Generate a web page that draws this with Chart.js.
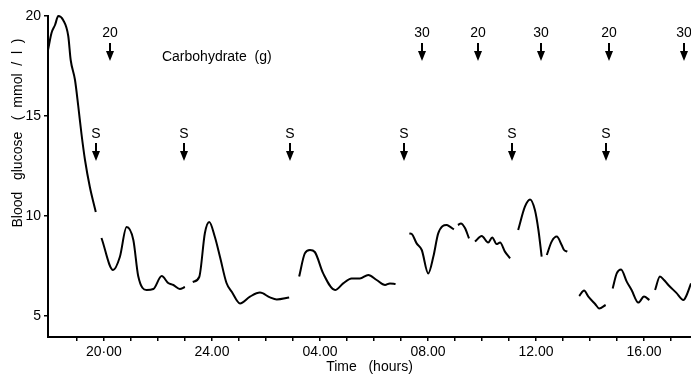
<!DOCTYPE html>
<html>
<head>
<meta charset="utf-8">
<script src="https://cdn.jsdelivr.net/npm/chart.js@4.4.0/dist/chart.umd.min.js"></script>
<style>
  html, body { margin: 0; padding: 0; background: #fff; }
</style>
</head>
<body>
<canvas id="grafico" width="691" height="376"></canvas>
<script>
// horas contadas desde las 18:00 (2 = 20:00, 6 = 24:00, 10 = 04:00 ...)
// null = corte en el registro
const hours = [
  -0.07, 0.06, 0.19, 0.31, 0.49, 0.68, 0.77, 0.93, 1.05, 1.17, 1.30, 1.48, 1.70, null,
  1.91, 2.34, 2.59, 2.84, 3.09, 3.27, 3.58, 3.83, 4.14, 4.38, 4.57, 4.81, 5.00, null,
  5.29, 5.53, 5.74, 5.90, 6.11, 6.30, 6.54, 6.74, 7.04, 7.41, 7.78, 8.15, 8.40, 8.86, null,
  9.23, 9.44, 9.63, 9.81, 10.12, 10.56, 10.86, 11.17, 11.48, 11.79, 12.10, 12.41, 12.59, 12.80, null,
  13.31, 13.40, 13.58, 13.77, 14.01, 14.20, 14.38, 14.69, 14.81, 14.96, null,
  15.11, 15.22, 15.37, 15.52, null,
  15.74, 15.99, 16.23, 16.38, 16.54, 16.67, 16.85, 17.04, null,
  17.34, 17.59, 17.78, 17.96, 18.09, 18.21, null,
  18.40, 18.58, 18.77, 18.95, 19.04, 19.16, null,
  19.60, 19.78, 19.94, 20.19, 20.34, 20.58, null,
  20.84, 20.99, 21.15, 21.36, 21.54, 21.79, 22.00, 22.20, null,
  22.41, 22.59, 22.74, 22.90, 23.19, 23.46, 23.58, 23.74
];
const glucose = [
  18.3, 19.15, 19.55, 20.0, 19.8, 19.0, 17.8, 16.8, 15.5, 14.1, 12.8, 11.45, 10.2, null,
  8.9, 7.3, 7.95, 9.45, 8.8, 7.0, 6.3, 6.35, 7.0, 6.65, 6.55, 6.35, 6.45, null,
  6.7, 6.95, 9.15, 9.7, 8.95, 7.95, 6.65, 6.2, 5.63, 5.97, 6.17, 5.93, 5.83, 5.93, null,
  6.97, 8.13, 8.3, 8.2, 7.13, 6.3, 6.63, 6.88, 6.88, 7.05, 6.8, 6.55, 6.63, 6.6, null,
  9.13, 9.1, 8.63, 8.3, 7.13, 7.97, 9.13, 9.55, 9.47, 9.33, null,
  9.55, 9.63, 9.4, 8.88, null,
  8.72, 9.0, 8.67, 8.93, 8.6, 8.67, 8.22, 7.88, null,
  9.3, 10.47, 10.83, 10.3, 9.3, 7.97, null,
  8.05, 8.72, 8.97, 8.55, 8.3, 8.22, null,
  6.0, 6.27, 5.97, 5.6, 5.38, 5.55, null,
  6.38, 7.13, 7.33, 6.72, 6.3, 5.67, 5.97, 5.8, null,
  6.3, 6.97, 6.8, 6.55, 6.17, 5.8, 6.05, 6.63
];

// marcas del eje de tiempo (una por hora) y sus etiquetas
const hourTicks = [1, 2, 3, 4, 5, 6, 7, 8, 9, 10, 11, 12, 13, 14, 15, 16, 17, 18, 19, 20, 21, 22, 23];
const hourLabels = { 2: '20·00', 6: '24.00', 10: '04.00', 14: '08.00', 18: '12.00', 22: '16.00' };
const glucoseTicks = [5, 10, 15, 20];

// carbohidratos (g) y dosis "S"
const carbHours = [2.22, 13.78, 15.85, 18.19, 20.70, 23.48];
const carbGrams = ['20', '30', '20', '30', '20', '30'];
const sHours = [1.70, 4.96, 8.89, 13.11, 17.11, 20.59];

const FUENTE = '"Liberation Sans", Arial, sans-serif';

// flechas, textos y titulo del eje Y
const anotaciones = {
  id: 'anotaciones',
  afterDatasetsDraw(chart) {
    const { ctx, scales: { x, y } } = chart;
    ctx.save();
    ctx.fillStyle = '#000';
    ctx.strokeStyle = '#000';
    ctx.font = '14px ' + FUENTE;
    ctx.textAlign = 'center';
    ctx.textBaseline = 'middle';

    const flecha = (h, txt, vTxt, vTop, vTip) => {
      const px = Math.round(x.getPixelForValue(h));
      const top = y.getPixelForValue(vTop);
      const tip = y.getPixelForValue(vTip);
      ctx.fillText(txt, px, y.getPixelForValue(vTxt));
      ctx.lineWidth = 2;
      ctx.beginPath();
      ctx.moveTo(px, top);
      ctx.lineTo(px, tip - 8);
      ctx.stroke();
      ctx.beginPath();
      ctx.moveTo(px - 4, tip - 10);
      ctx.lineTo(px + 4, tip - 10);
      ctx.lineTo(px, tip);
      ctx.closePath();
      ctx.fill();
    };

    carbHours.forEach((h, i) => flecha(h, carbGrams[i], 19.15, 18.65, 17.75));
    sHours.forEach(h => flecha(h, 'S', 14.1, 13.65, 12.75));

    ctx.textAlign = 'left';
    ctx.fillText('Carbohydrate  (g)', x.getPixelForValue(4.15), y.getPixelForValue(17.95));

    // titulo eje Y
    ctx.translate(18, 133);
    ctx.rotate(-Math.PI / 2);
    ctx.textAlign = 'center';
    ctx.fillText('Blood   glucose   (  mmol  /  l  )', 0, 0);
    ctx.restore();
  }
};

new Chart(document.getElementById('grafico'), {
  type: 'line',
  data: {
    datasets: [{
      data: hours.map((h, i) => ({ x: h, y: glucose[i] })),
      borderColor: '#000',
      borderWidth: 2,
      pointRadius: 0,
      fill: false,
      spanGaps: false,
      tension: 0.4,
      cubicInterpolationMode: 'monotone',
      clip: false
    }]
  },
  options: {
    responsive: false,
    animation: false,
    layout: { padding: { top: 16, right: 0, bottom: 0, left: 0 } },
    plugins: { legend: { display: false }, tooltip: { enabled: false } },
    scales: {
      x: {
        type: 'linear',
        min: -0.07,
        max: 23.74,
        afterBuildTicks: s => { s.ticks = hourTicks.map(v => ({ value: v })); },
        afterFit: s => { s.height = 39; },
        grid: { drawOnChartArea: false, color: '#000', lineWidth: 1.5, tickLength: 4 },
        border: { color: '#000', width: 2 },
        ticks: {
          autoSkip: false,
          maxRotation: 0,
          padding: 3,
          color: '#000',
          font: { family: FUENTE, size: 14 },
          callback: v => hourLabels[v] || ''
        },
        title: {
          display: true,
          text: 'Time   (hours)',
          color: '#000',
          font: { family: FUENTE, size: 14 },
          padding: { top: 0, bottom: 0 }
        }
      },
      y: {
        min: 3.95,
        max: 20,
        afterBuildTicks: s => { s.ticks = glucoseTicks.map(v => ({ value: v })); },
        afterFit: s => { s.width = 48; },
        grid: { drawOnChartArea: false, color: '#000', lineWidth: 1.5, tickLength: 4 },
        border: { color: '#000', width: 2 },
        ticks: {
          padding: 3,
          color: '#000',
          font: { family: FUENTE, size: 14 }
        }
      }
    }
  },
  plugins: [anotaciones]
});
</script>
</body>
</html>
